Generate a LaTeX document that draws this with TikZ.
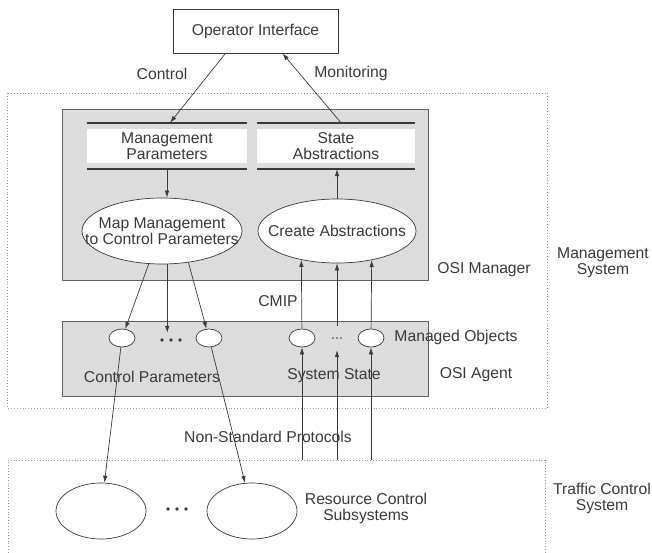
\documentclass[tikz,border=0pt]{standalone}
\usepackage{fontspec}
\setmainfont{Liberation Sans}
\usetikzlibrary{shapes.geometric,arrows.meta}
\definecolor{ink}{HTML}{3A3A3A}
\definecolor{boxgray}{HTML}{DCDCDC}
\definecolor{dotgray}{HTML}{9A9A9A}
\begin{document}
\begin{tikzpicture}[x=1pt,y=-1pt,
  font=\fontsize{15.7}{16}\selectfont,
  every node/.style={text=ink},
  line/.style={draw=ink, line width=0.7pt},
  arr/.style={line, -{Latex[length=7pt,width=4.5pt]}},
  dotbox/.style={draw=dotgray, dotted, line width=0.9pt},
  graybox/.style={draw=ink!80, fill=boxgray, line width=0.6pt, inner sep=0},
  bigoval/.style={ellipse, draw=ink, fill=white, line width=0.7pt, inner sep=0},
  smalloval/.style={ellipse, draw=ink, fill=white, line width=0.7pt, minimum width=26pt, minimum height=18pt, inner sep=0},
  lbl/.style={inner sep=0, align=center},
  bandline/.style={draw=ink, line width=1.1pt}
]
\useasboundingbox (0,0) rectangle (652,553);

% dotted system boxes
\draw[dotbox] (7,93) rectangle (547,408);
\draw[dotbox] (8,553) -- (8,460) -- (545,460) -- (545,553);

% operator interface
\node[draw=ink, line width=0.7pt, fill=white, minimum width=165pt, minimum height=44pt, inner sep=0] (oi) at (255.5,31) {Operator Interface};

% OSI manager box
\node[graybox, minimum width=366pt, minimum height=171pt, anchor=north west] (mgr) at (62,109) {};

% bands
\fill[white] (87,129) rectangle (247,163);
\fill[white] (257,129) rectangle (415,163);
\draw[bandline] (87,123) -- (247,123) (87,169) -- (247,169);
\draw[bandline] (257,123) -- (415,123) (257,169) -- (415,169);
\node[lbl, minimum width=160pt, minimum height=46pt] (mp) at (167,146) {Management\\Parameters};
\node[lbl, minimum width=158pt, minimum height=46pt] (sa) at (336,146) {State\\Abstractions};

% ellipses in manager
\node[bigoval, minimum width=160pt, minimum height=66pt] (map) at (162,231) {};
\node[lbl] (maptxt) at (map) {Map Management\\to Control Parameters};
\node[bigoval, minimum width=158pt, minimum height=64pt] (cre) at (337,231) {};
\node[lbl] (cretxt) at (cre) {Create Abstractions};

% OSI agent box
\node[graybox, minimum width=366pt, minimum height=75pt, anchor=north west] (agt) at (62,321) {};

% managed objects
\node[smalloval] (so1) at (122,338) {};
\node[smalloval] (so2) at (209,338) {};
\node[smalloval] (so3) at (302,338) {};
\node[smalloval] (so4) at (371,338) {};
\node[inner sep=0, minimum width=24pt, minimum height=14pt] (d1) at (171,340) {};
\foreach \dx in {-9,0,9} \fill[ink] ([xshift=\dx pt]d1.center) circle (1.8pt);
\node[inner sep=0, minimum width=12pt, minimum height=24pt] (d2) at (337,338) {};
\foreach \dx in {-4,0,4} \fill[ink] ([xshift=\dx pt]d2.center) circle (0.9pt);

% resource control subsystems
\node[bigoval, minimum width=90pt, minimum height=56pt] (rc1) at (101,511) {};
\node[bigoval, minimum width=90pt, minimum height=56pt] (rc2) at (252,511) {};
\node[inner sep=0, minimum width=24pt, minimum height=8pt] (d3) at (177,509) {};
\foreach \dx in {-9,0,9} \fill[ink] ([xshift=\dx pt]d3.center) circle (1.9pt);

% bottom coordinates for upward lines
\coordinate (t1) at (302,460);
\coordinate (t2) at (337,460);
\coordinate (t3) at (371,460);

% connectors
\draw[arr] ([xshift=-30pt]oi.south) -- ([xshift=3pt]mp.north);
\draw[arr] ([xshift=5pt]sa.north) -- ([xshift=27pt]oi.south);
\draw[arr] (mp.south) -- (mp.south |- map.north);
\draw[arr] (cre.north) -- (cre.north |- sa.south);

\draw[arr] (map.248) -- (so1);
\draw[arr] (map.279) -- (map.279 |- d1.north);
\draw[arr] (map.310) -- (so2);

\draw[arr] (t1) -- (so3);
\draw[arr] (so3) -- (cre.219.6);
\draw[arr] (t2) -- (d2.south);
\draw[arr] (d2.north) -- (cre.south);
\draw[arr] (t3) -- (so4);
\draw[arr] (so4) -- (cre.320.4);

\draw[arr] (so1) -- (rc1);
\draw[arr] (so2) -- (rc2);

% labels
\node[lbl] (lctrl) at (162,74) {Control};
\node[lbl] (lmon) at (351,73) {Monitoring};
\node[lbl] (losimgr) at (484,270) {OSI Manager};
\node[lbl] (lmgmt) at (603,263) {Management\\System};
\node[lbl] (lcmip) at (278,301) {CMIP};
\node[lbl] (lmo) at (456,337) {Managed Objects};
\node[lbl] (lagent) at (476,375) {OSI Agent};
\node[lbl] (lcp) at (152,377) {Control Parameters};
\node[lbl] (lss) at (334,376) {System State};
\node[lbl] (lnsp) at (268,437) {Non-Standard Protocols};
\node[lbl] (lrcs) at (366,508) {Resource Control\\Subsystems};
\node[lbl] (ltcs) at (602,498) {Traffic Control\\System};
\end{tikzpicture}
\end{document}
